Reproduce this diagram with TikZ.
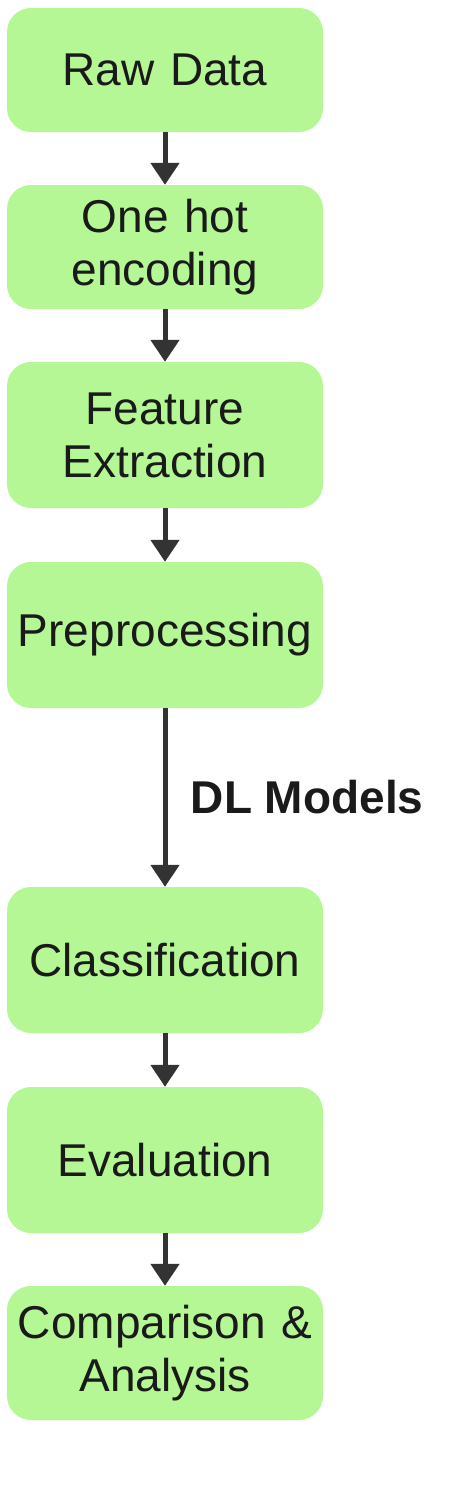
\documentclass[tikz,border=0pt]{standalone}
\usepackage{fontspec}
\setmainfont{Liberation Sans}
\usetikzlibrary{arrows.meta}
\definecolor{boxgreen}{HTML}{B4F794}
\definecolor{arrowgray}{HTML}{333333}
\definecolor{txt}{HTML}{1A1A1A}
\begin{document}
\begin{tikzpicture}[x=1pt,y=-1pt,
  stepbox/.style={fill=boxgreen, rounded corners=24pt, minimum width=316pt, text width=310pt, align=center, inner sep=0pt, font=\fontsize{46}{53}\selectfont, text=txt},
  flow/.style={draw=arrowgray, line width=5pt, -{Triangle[length=22pt,width=28pt]}}]
\useasboundingbox (0,0) rectangle (472,1510);
\node[stepbox, minimum height=124pt] (raw) at (165,70) {Raw Data};
\node[stepbox, minimum height=124pt] (ohe) at (165,247) {One hot\\encoding};
\node[stepbox, minimum height=146pt] (fe) at (165,435) {Feature\\Extraction};
\node[stepbox, minimum height=146pt] (pre) at (165,635) {Preprocessing};
\node[stepbox, minimum height=146pt] (cls) at (165,960) {Classification};
\node[stepbox, minimum height=146pt] (eva) at (165,1160) {Evaluation};
\node[stepbox, minimum height=134pt] (cmp) at (165,1353) {Comparison \&\\Analysis};
\draw[flow] (raw.south) -- (ohe.north);
\draw[flow] (ohe.south) -- (fe.north);
\draw[flow] (fe.south) -- (pre.north);
\draw[flow] (pre.south) -- node[right=20pt, font=\bfseries\fontsize{46}{53}\selectfont, text=txt] (dl) {DL Models} (cls.north);
\draw[flow] (cls.south) -- (eva.north);
\draw[flow] (eva.south) -- (cmp.north);
\end{tikzpicture}
\end{document}
